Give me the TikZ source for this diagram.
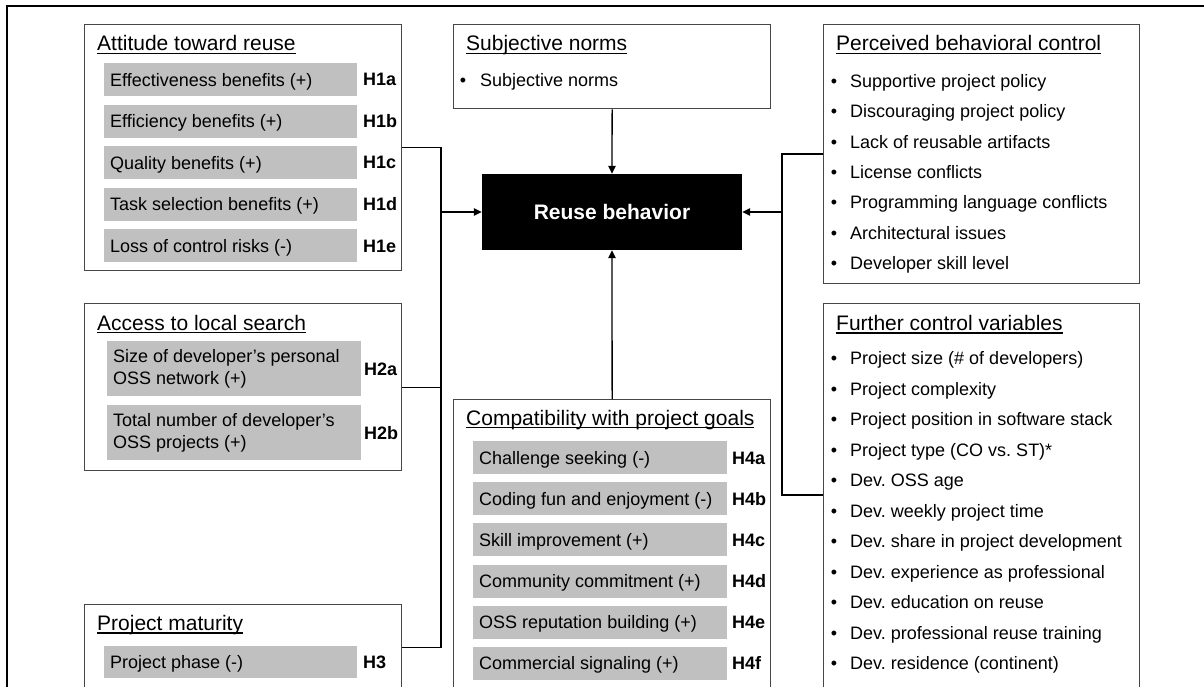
\documentclass[tikz,border=0pt]{standalone}
\usepackage{fontspec}
\setmainfont{Liberation Sans}
\usetikzlibrary{arrows.meta}
\definecolor{barfill}{RGB}{192,192,192}
\definecolor{boxline}{RGB}{70,70,70}
\newcommand\myul[1]{\setbox0\hbox{#1}\rlap{\rule[-3pt]{\wd0}{1.4pt}}\box0}
\begin{document}
\frenchspacing
\begin{tikzpicture}[x=1pt,y=-1pt,
  box/.style={draw=boxline, line width=1.3pt, fill=white, inner sep=0pt, anchor=north west},
  bar/.style={fill=barfill, draw=none, inner sep=0pt, anchor=north west},
  txt/.style={font=\fontsize{18}{21}\selectfont, inner sep=0pt, anchor=west, text height=13pt, text depth=0pt},
  txttwo/.style={font=\fontsize{18}{22}\selectfont, inner sep=0pt, anchor=west, align=left},
  hyp/.style={txt, font=\fontsize{18}{21}\selectfont\bfseries},
  ttl/.style={font=\fontsize{21}{24}\selectfont, inner sep=0pt, anchor=base west},
  conn/.style={line width=1.3pt, black},
  arr/.style={conn, -{Triangle[length=8pt,width=7.5pt]}}
]
\useasboundingbox (0,0) rectangle (1204,687);
\draw[line width=2pt] (6.5,687) -- (6.5,6.5) -- (1204,6.5);

% boxes
\node[box, minimum width=317pt, minimum height=246pt] (att) at (84,24) {};
\node[box, minimum width=317pt, minimum height=167pt] (acc) at (84,303) {};
\node[box, minimum width=317pt, minimum height=86pt] (mat) at (84,604) {};
\node[box, minimum width=317pt, minimum height=84pt] (sn) at (453,24) {};
\node[box, minimum width=317pt, minimum height=300pt] (cp) at (453,399) {};
\node[box, minimum width=316pt, minimum height=259pt] (pbc) at (823,24) {};
\node[box, minimum width=316pt, minimum height=400pt] (fcv) at (823,303) {};

% central node
\node[fill=black, text=white, font=\fontsize{21}{24}\selectfont\bfseries,
      minimum width=260pt, minimum height=76pt, inner sep=0pt] (rb) at (612,212) {Reuse behavior};

% titles
\node[ttl] (attT) at (97,51) {\myul{Attitude toward reuse}};
\node[ttl] (snT) at (466,51) {\myul{Subjective norms}};
\node[ttl] (pbcT) at (836,51) {\myul{Perceived behavioral control}};
\node[ttl] (accT) at (97,330) {\myul{Access to local search}};
\node[ttl] (matT) at (97,630.5) {\myul{Project maturity}};
\node[ttl] (cpT) at (466,425) {\myul{Compatibility with project goals}};
\node[ttl] (fcvT) at (836,330.5) {\myul{Further control variables}};

% attitude bars
\foreach \t/\h [count=\i from 0] in {Effectiveness benefits (+)/H1a, Efficiency benefits (+)/H1b,
   Quality benefits (+)/H1c, Task selection benefits (+)/H1d, Loss of control risks (-)/H1e} {
  \node[bar, minimum width=253pt, minimum height=33pt] (ab\i) at (104,63+41.5*\i) {};
  \node[txt] (at\i) at ([xshift=6pt]ab\i.west) {\t};
  \node[hyp] (ah\i) at (363,79.5+41.5*\i) {\h};
}

% access bars
\node[bar, minimum width=254pt, minimum height=55pt] (cb0) at (107,341) {};
\node[txttwo] (ct0) at ([xshift=6pt]cb0.west) {Size of developer’s personal\\OSS network (+)};
\node[hyp] (ch0) at (364,368.5) {H2a};
\node[bar, minimum width=254pt, minimum height=55pt] (cb1) at (107,405) {};
\node[txttwo] (ct1) at ([xshift=6pt]cb1.west) {Total number of developer’s\\OSS projects (+)};
\node[hyp] (ch1) at (364,432.5) {H2b};

% maturity bar
\node[bar, minimum width=253pt, minimum height=32pt] (mb0) at (104,646) {};
\node[txt] (mt0) at ([xshift=6pt]mb0.west) {Project phase (-)};
\node[hyp] (mh0) at (363,662) {H3};

% compatibility bars
\foreach \t/\h [count=\i from 0] in {Challenge seeking (-)/H4a, Coding fun and enjoyment (-)/H4b,
   Skill improvement (+)/H4c, Community commitment (+)/H4d, OSS reputation building (+)/H4e,
   Commercial signaling (+)/H4f} {
  \node[bar, minimum width=254pt, minimum height=33pt] (pb\i) at (473,441+41.1*\i) {};
  \node[txt] (pt\i) at ([xshift=6pt]pb\i.west) {\t};
  \node[hyp] (ph\i) at (732,457.5+41.1*\i) {\h};
}

% subjective norms item
\node[txt] (snb) at (459.7,80) {•};
\node[txt] (snt) at (480,80) {Subjective norms};

% perceived behavioral control items
\foreach \t [count=\i from 0] in {Supportive project policy, Discouraging project policy,
   Lack of reusable artifacts, License conflicts, Programming language conflicts,
   Architectural issues, Developer skill level} {
  \node[txt] (pbcb\i) at (830.7,81+30.3*\i) {•};
  \node[txt] (pbct\i) at (850,81+30.3*\i) {\t};
}

% further control variables items
\foreach \t [count=\i from 0] in {Project size (\# of developers), Project complexity,
   Project position in software stack, Project type (CO vs. ST)*, Dev. OSS age,
   Dev. weekly project time, Dev. share in project development,
   Dev. experience as professional, Dev. education on reuse,
   Dev. professional reuse training, Dev. residence (continent)} {
  \node[txt] (fcvb\i) at (830.7,358+30.5*\i) {•};
  \node[txt] (fcvt\i) at (850,358+30.5*\i) {\t};
}

% connectors
\coordinate (jl) at (441,212);
\coordinate (jr) at (782,212);
\coordinate (fcvc) at ([yshift=-192pt]fcv.north west);
\draw[conn] (att.east) -- (att.east -| jl) -- (mat.east -| jl) -- (mat.east);
\draw[conn] (acc.east) -- (acc.east -| jl);
\draw[arr] (jl) -- (rb.west);
\draw[conn] (pbc.west) -- (pbc.west -| jr) -- (fcvc -| jr) -- (fcvc);
\draw[arr] (jr) -- (rb.east);
\draw[arr] (sn.south) -- (rb.north);
\draw[arr] (cp.north) -- (rb.south);
\end{tikzpicture}
\end{document}
